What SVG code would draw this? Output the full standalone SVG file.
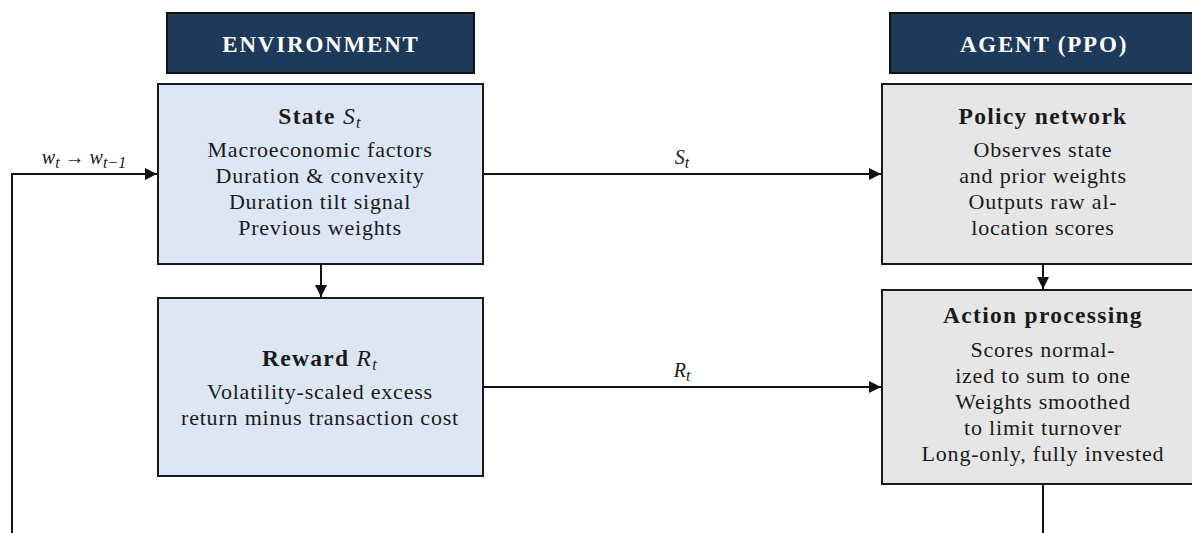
<svg xmlns="http://www.w3.org/2000/svg" width="1192" height="533" viewBox="0 0 1192 533">
<style>
.hdr{fill:#1e3a5a;stroke:#111;stroke-width:2}
.env{fill:#dce6f4;stroke:#1a1a1a;stroke-width:2}
.agt{fill:#e6e6e6;stroke:#1a1a1a;stroke-width:2}
.ht{font-family:"Liberation Serif",serif;font-weight:bold;font-size:23px;letter-spacing:1.8px;fill:#fff;text-anchor:middle}
.tt{font-family:"Liberation Serif",serif;font-weight:bold;font-size:23.5px;letter-spacing:1.3px;fill:#1a1a1a;text-anchor:middle}
.bt{font-family:"Liberation Serif",serif;font-size:22px;letter-spacing:0.8px;fill:#1a1a1a;text-anchor:middle}
.lb{font-family:"Liberation Serif",serif;font-size:20px;fill:#1a1a1a;text-anchor:middle}
.m{font-style:italic;font-weight:normal}
.sub{font-style:italic;font-weight:normal;font-size:16px}
.con{fill:none;stroke:#111;stroke-width:2}
</style>
<defs>
<marker id="ah" markerUnits="userSpaceOnUse" markerWidth="13" markerHeight="12" refX="12" refY="6" orient="auto">
<path d="M0,0 L12,6 L0,12 Z" fill="#111"/>
</marker>
</defs>
<g id="env-header"><rect class="hdr" x="167" y="13" width="307" height="60"/><text class="ht" x="321" y="52">ENVIRONMENT</text></g>
<g id="agent-header"><rect class="hdr" x="890" y="13" width="310" height="60"/><text class="ht" x="1044" y="52">AGENT (PPO)</text></g>
<g id="state">
<rect class="env" x="158" y="84" width="325" height="180"/>
<text class="tt" x="320" y="124">State <tspan class="m">S</tspan><tspan class="sub" dy="4">t</tspan></text>
<text class="bt" x="320" y="157">Macroeconomic factors</text>
<text class="bt" x="320" y="183">Duration &amp; convexity</text>
<text class="bt" x="320" y="209">Duration tilt signal</text>
<text class="bt" x="320" y="235">Previous weights</text>
</g>
<g id="reward">
<rect class="env" x="158" y="298" width="325" height="178"/>
<text class="tt" x="320" y="366">Reward <tspan class="m">R</tspan><tspan class="sub" dy="4">t</tspan></text>
<text class="bt" x="320" y="399">Volatility-scaled excess</text>
<text class="bt" x="320" y="425">return minus transaction cost</text>
</g>
<g id="policy">
<rect class="agt" x="882" y="84" width="322" height="180"/>
<text class="tt" x="1043" y="124">Policy network</text>
<text class="bt" x="1043" y="157">Observes state</text>
<text class="bt" x="1043" y="183">and prior weights</text>
<text class="bt" x="1043" y="209">Outputs raw al-</text>
<text class="bt" x="1043" y="235">location scores</text>
</g>
<g id="action">
<rect class="agt" x="882" y="290" width="322" height="194"/>
<text class="tt" x="1043" y="323">Action processing</text>
<text class="bt" x="1043" y="357">Scores normal-</text>
<text class="bt" x="1043" y="383">ized to sum to one</text>
<text class="bt" x="1043" y="409">Weights smoothed</text>
<text class="bt" x="1043" y="435">to limit turnover</text>
<text class="bt" x="1043" y="461">Long-only, fully invested</text>
</g>
<g id="connectors">
<path class="con" d="M321,264 V297" marker-end="url(#ah)"/>
<path class="con" d="M1043,264 V289" marker-end="url(#ah)"/>
<path class="con" d="M483,174 H881" marker-end="url(#ah)"/>
<path class="con" d="M483,387 H881" marker-end="url(#ah)"/>
<path class="con" d="M1043,484 V550 H12 V174 H157" marker-end="url(#ah)"/>
<text class="lb" x="682" y="164"><tspan class="m">S</tspan><tspan class="sub" font-size="14" dy="4">t</tspan></text>
<text class="lb" x="682" y="377"><tspan class="m">R</tspan><tspan class="sub" font-size="14" dy="4">t</tspan></text>
<text class="lb" x="84" y="164"><tspan class="m">w</tspan><tspan class="sub" font-size="14" dy="4">t</tspan><tspan dy="-4"> → </tspan><tspan class="m">w</tspan><tspan class="sub" font-size="14" dy="4">t−1</tspan></text>
</g>
</svg>
